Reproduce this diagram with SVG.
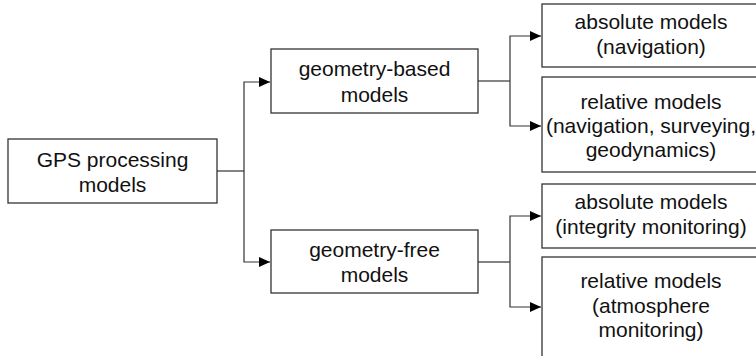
<svg xmlns="http://www.w3.org/2000/svg" width="756" height="356" viewBox="0 0 756 356">
<style>
.box{fill:#fff;stroke:#333;stroke-width:1.3}
.t{font-family:"Liberation Sans",Arial,sans-serif;font-size:21px;fill:#111;text-anchor:middle}
.c{fill:none;stroke:#333;stroke-width:1.2}
</style>
<defs>
<marker id="ah" markerWidth="12" markerHeight="12" refX="11" refY="5.5" orient="auto" markerUnits="userSpaceOnUse">
<path d="M0,0.5 L11,5.5 L0,10.5 Z" fill="#000"/>
</marker>
</defs>
<g id="connectors">
<path class="c" d="M217,171 H244"/>
<path class="c" d="M244,171 V82 H270" marker-end="url(#ah)"/>
<path class="c" d="M244,171 V262 H270" marker-end="url(#ah)"/>
<path class="c" d="M478,81 H510"/>
<path class="c" d="M510,81 V36 H541" marker-end="url(#ah)"/>
<path class="c" d="M510,81 V126 H541" marker-end="url(#ah)"/>
<path class="c" d="M478,262 H510"/>
<path class="c" d="M510,262 V216 H541" marker-end="url(#ah)"/>
<path class="c" d="M510,262 V307 H541" marker-end="url(#ah)"/>
</g>
<g id="gps">
<rect class="box" x="8" y="139" width="209" height="64"/>
<text class="t" x="112.5" y="167">GPS processing</text>
<text class="t" x="112.5" y="192">models</text>
</g>
<g id="geometry-based">
<rect class="box" x="271" y="49" width="207" height="64"/>
<text class="t" x="374.5" y="76">geometry-based</text>
<text class="t" x="374.5" y="102">models</text>
</g>
<g id="geometry-free">
<rect class="box" x="271" y="230" width="207" height="63"/>
<text class="t" x="374.5" y="257">geometry-free</text>
<text class="t" x="374.5" y="282">models</text>
</g>
<g id="absolute-navigation">
<rect class="box" x="542" y="4" width="218" height="63"/>
<text class="t" x="651" y="29">absolute models</text>
<text class="t" x="651" y="54">(navigation)</text>
</g>
<g id="relative-navigation">
<rect class="box" x="542" y="77" width="218" height="95"/>
<text class="t" x="651" y="109">relative models</text>
<text class="t" x="651" y="133">(navigation, surveying,</text>
<text class="t" x="651" y="157">geodynamics)</text>
</g>
<g id="absolute-integrity">
<rect class="box" x="542" y="184" width="218" height="64"/>
<text class="t" x="651" y="209">absolute models</text>
<text class="t" x="651" y="234">(integrity monitoring)</text>
</g>
<g id="relative-atmosphere">
<rect class="box" x="542" y="257" width="218" height="110"/>
<text class="t" x="651" y="288">relative models</text>
<text class="t" x="651" y="313">(atmosphere</text>
<text class="t" x="651" y="337">monitoring)</text>
</g>
</svg>
